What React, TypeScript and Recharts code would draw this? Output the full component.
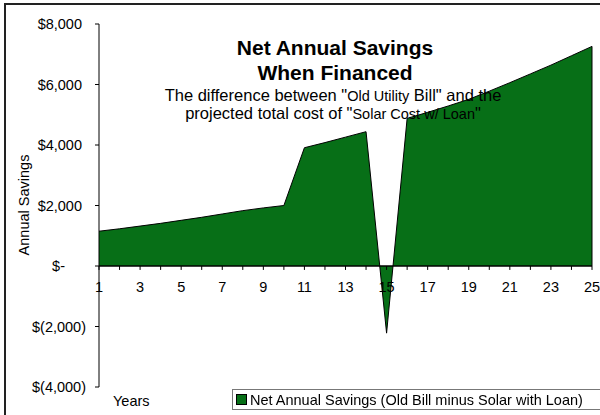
import React from 'react';
import { AreaChart, Area, XAxis, YAxis, ReferenceLine } from 'recharts';

const YEARS = [1, 2, 3, 4, 5, 6, 7, 8, 9, 10, 11, 12, 13, 14, 15, 16, 17, 18, 19, 20, 21, 22, 23, 24, 25];
const SAVINGS = [
  1150, 1230, 1320, 1410, 1510, 1610, 1720, 1830, 1920, 2000,
  3910, 4080, 4260, 4440, -2220, 4880, 5080, 5290, 5510, 5780,
  6060, 6350, 6640, 6950, 7260,
];
const Y_TICKS = [-4000, -2000, 0, 2000, 4000, 6000, 8000];
const SERIES_NAME = 'Net Annual Savings (Old Bill minus Solar with Loan)';

const FONT = 'Arial, "Liberation Sans", sans-serif';
const GREEN = '#076f17';
const TICK_DEPTH = 130; // tick mark length in $ units (~4px)

const data = YEARS.map((year, i) => ({ year, value: SAVINGS[i] }));

function money(v: number) {
  if (v === 0) return '$-';
  const s = Math.abs(v).toLocaleString('en-US');
  return v < 0 ? `$(${s})` : `$${s}`;
}

// accounting style: digits line up, the closing paren hangs to the right
function YTick(props: any) {
  const { x, y, payload } = props;
  const v = payload.value as number;
  const shift = v === 0 ? -21 : v > 0 ? -4 : 0;
  return (
    <text x={x + shift} y={y} dy="0.36em" textAnchor="end" fontSize={14.5} fontFamily={FONT} fill="#000">
      {money(v)}
    </text>
  );
}

export default function App() {
  return (
    <div style={{ position: 'fixed', left: 0, top: 0, width: 600, height: 415, background: '#fff', fontFamily: FONT }}>
      <div style={{ position: 'absolute', left: 4, top: 3, right: 0, bottom: 0, borderTop: '2px solid #222', borderLeft: '2px solid #222' }} />
      <AreaChart width={600} height={415} data={data} margin={{ top: 24, right: 8, bottom: 28, left: 0 }}>
        <XAxis dataKey="year" type="number" domain={[1, 25]} hide />
        <YAxis
          width={99}
          domain={[-4000, 8000]}
          ticks={Y_TICKS}
          interval={0}
          tickSize={4}
          tickMargin={9}
          stroke="#000"
          tickLine={{ stroke: '#000' }}
          tick={<YTick />}
        />
        <Area
          type="linear"
          dataKey="value"
          name={SERIES_NAME}
          baseValue={0}
          stroke="#000"
          strokeWidth={1}
          fill={GREEN}
          fillOpacity={1}
          isAnimationActive={false}
        />
        <ReferenceLine
          segment={[{ x: YEARS[YEARS.length - 1], y: 0 }, { x: YEARS[YEARS.length - 1], y: SAVINGS[SAVINGS.length - 1] }]}
          stroke="#000"
        />
        <ReferenceLine y={0} stroke="#000" strokeWidth={1.5} />
        {YEARS.map((yr) => (
          <ReferenceLine
            key={yr}
            segment={[{ x: yr, y: 0 }, { x: yr, y: -TICK_DEPTH }]}
            stroke="#000"
            label={
              yr % 2 === 1
                ? { value: String(yr), position: 'bottom', offset: 12, fontSize: 14.5, fontFamily: FONT, fill: '#000' }
                : undefined
            }
          />
        ))}
      </AreaChart>

      <div style={{ position: 'absolute', left: 135, width: 400, top: 35, textAlign: 'center', fontWeight: 'bold', fontSize: 21, lineHeight: '25px', color: '#000' }}>
        Net Annual Savings
        <br />
        When Financed
      </div>
      <div style={{ position: 'absolute', left: 133, width: 400, top: 87, textAlign: 'center', fontSize: 16.5, lineHeight: '17px', color: '#000' }}>
        The difference between "<span style={{ fontSize: 14.5 }}>Old Utility</span> Bill" and the
        <br />
        projected total cost of "<span style={{ fontSize: 14.5 }}>Solar Cost w/ Loan</span>"
      </div>

      <div style={{ position: 'absolute', left: 24, top: 205, transform: 'translate(-50%, -50%) rotate(-90deg)', fontSize: 14.5, whiteSpace: 'nowrap', color: '#000' }}>
        Annual Savings
      </div>
      <div style={{ position: 'absolute', left: 113, top: 393, fontSize: 14.5, color: '#000' }}>Years</div>

      <div style={{ position: 'absolute', left: 232, top: 389, width: 372, height: 19, border: '1px solid #777', display: 'flex', alignItems: 'center', fontSize: 14.5, color: '#000', whiteSpace: 'nowrap' }}>
        <span style={{ display: 'inline-block', width: 9, height: 9, background: GREEN, border: '1px solid #000', marginLeft: 3, marginRight: 3 }} />
        {SERIES_NAME}
      </div>
    </div>
  );
}
